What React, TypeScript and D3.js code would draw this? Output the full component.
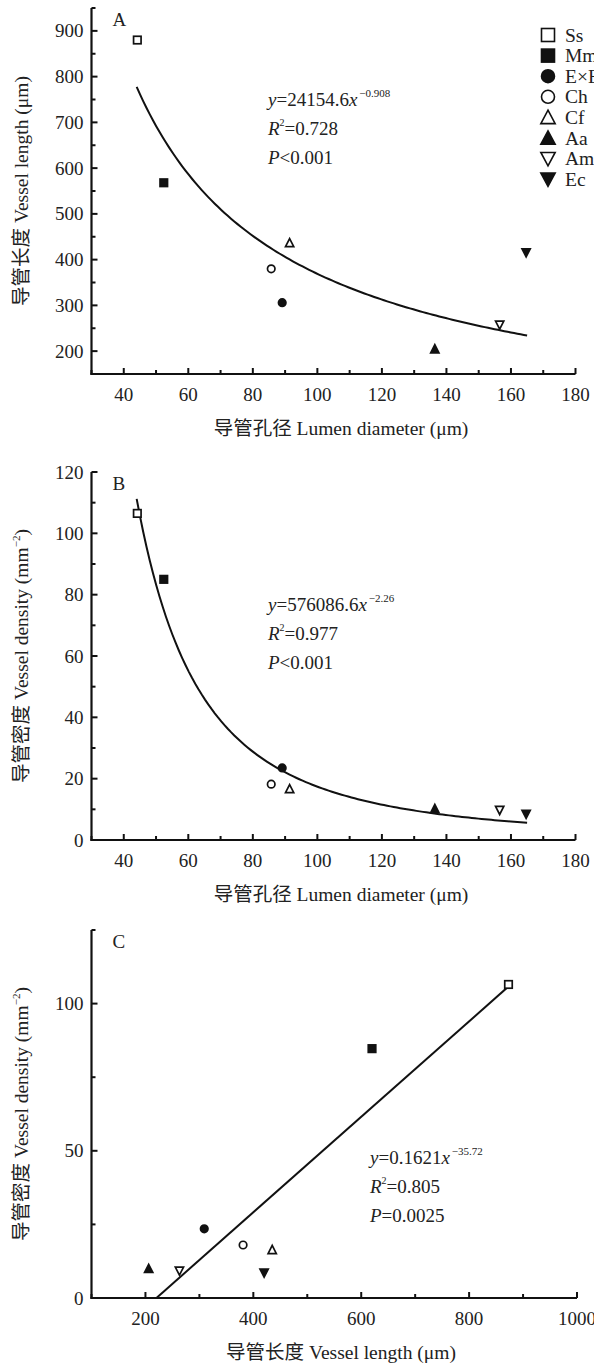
import React from 'react';
import * as d3 from 'd3';

// ---------- data ----------
const species = ['Ss', 'Mm', 'E×B', 'Ch', 'Cf', 'Aa', 'Am', 'Ec'];
const markerShapes = ['square-open', 'square-filled', 'circle-filled', 'circle-open', 'tri-up-open', 'tri-up-filled', 'tri-down-open', 'tri-down-filled'];
const lumenDiameter = [44.2, 52.4, 89.1, 85.7, 91.4, 136.4, 156.5, 164.7];
const vesselLength = [880, 568, 306, 380, 436, 204, 258, 416];
const vesselDensity = [106.5, 85, 23.5, 18.2, 16.6, 10.1, 9.8, 8.5];
const vesselLengthC = [873, 620, 309, 381, 435, 206, 263, 420];
const vesselDensityC = [106.5, 84.7, 23.5, 18, 16.3, 9.9, 9.3, 8.6];

// fitted models (from the chart's equations)
const fitA = { a: 24154.6, b: -0.908, from: 44, to: 165 };
const fitB = { a: 576086.6, b: -2.26, from: 44, to: 165 };
const fitC = { slope: 0.1621, intercept: -35.72, from: 220.4, to: 880 };

// ticks
const xTicksAB = [40, 60, 80, 100, 120, 140, 160, 180];
const xMinorAB = [30, 50, 70, 90, 110, 130, 150, 170];
const yTicksA = [200, 300, 400, 500, 600, 700, 800, 900];
const yMinorA = [150, 250, 350, 450, 550, 650, 750, 850, 950];
const yTicksB = [0, 20, 40, 60, 80, 100, 120];
const yMinorB = [10, 30, 50, 70, 90, 110];
const xTicksC = [200, 400, 600, 800, 1000];
const xMinorC = [100, 300, 500, 700, 900];
const yTicksC = [0, 50, 100];
const yMinorC = [25, 75, 125];

const FONT = "'Liberation Serif', 'Times New Roman', 'Noto Sans CJK SC', serif";

function Marker({ shape, x, y, s }: { shape: string; x: number; y: number; s: number }) {
  const filled = shape.endsWith('filled');
  const fill = filled ? '#111' : '#fff';
  const sw = s > 10 ? 1.6 : 1.7;
  if (shape.startsWith('square')) {
    return <rect x={x - s / 2} y={y - s / 2} width={s} height={s} fill={fill} stroke="#111" strokeWidth={sw} />;
  }
  if (shape.startsWith('circle')) {
    return <circle cx={x} cy={y} r={s / 2} fill={fill} stroke="#111" strokeWidth={sw} />;
  }
  const w = s * 1.1;
  const h = s * 0.95;
  if (shape.startsWith('tri-up')) {
    const p = `${x},${y - h / 2 - 1} ${x + w / 2},${y + h / 2} ${x - w / 2},${y + h / 2}`;
    return <polygon points={p} fill={fill} stroke="#111" strokeWidth={sw} strokeLinejoin="miter" />;
  }
  const p = `${x - w / 2},${y - h / 2} ${x + w / 2},${y - h / 2} ${x},${y + h / 2 + 1}`;
  return <polygon points={p} fill={fill} stroke="#111" strokeWidth={sw} strokeLinejoin="miter" />;
}

type PanelProps = {
  x: d3.ScaleLinear<number, number>;
  y: d3.ScaleLinear<number, number>;
  xTicks: number[];
  xMinor: number[];
  yTicks: number[];
  yMinor: number[];
  letter: string;
  xTitle: string;
  yTitle: React.ReactNode;
  children?: React.ReactNode;
};

function Panel({ x, y, xTicks, xMinor, yTicks, yMinor, letter, xTitle, yTitle, children }: PanelProps) {
  const [x0, x1] = x.range();
  const [yb, yt] = y.range();
  const major = 6;
  const minor = 4;
  return (
    <g>
      {/* axes */}
      <line x1={x0} x2={x0} y1={yt} y2={yb + 1} stroke="#111" strokeWidth={2.2} />
      <line x1={x0 - 1} x2={x1} y1={yb} y2={yb} stroke="#111" strokeWidth={2.2} />
      {xTicks.map((t) => (
        <g key={'xt' + t}>
          <line x1={x(t)} x2={x(t)} y1={yb} y2={yb - major} stroke="#111" strokeWidth={2} />
          <text x={x(t)} y={yb + 27} textAnchor="middle" fontSize={19} fontFamily={FONT} fill="#222">{t}</text>
        </g>
      ))}
      {xMinor.map((t) => (
        <line key={'xm' + t} x1={x(t)} x2={x(t)} y1={yb} y2={yb - minor} stroke="#111" strokeWidth={2} />
      ))}
      {yTicks.map((t) => (
        <g key={'yt' + t}>
          <line x1={x0} x2={x0 + major} y1={y(t)} y2={y(t)} stroke="#111" strokeWidth={2} />
          <text x={x0 - 8} y={y(t) + 6.5} textAnchor="end" fontSize={19} fontFamily={FONT} fill="#222">{t}</text>
        </g>
      ))}
      {yMinor.map((t) => (
        <line key={'ym' + t} x1={x0} x2={x0 + minor} y1={y(t)} y2={y(t)} stroke="#111" strokeWidth={2} />
      ))}
      <text x={x0 + 21} y={yt + 18} fontSize={19} fontFamily={FONT} fill="#222">{letter}</text>
      <text x={341} y={yb + 61} textAnchor="middle" fontSize={19.5} fontFamily={FONT} fill="#222">{xTitle}</text>
      <text transform={`translate(21, ${(yt + yb) / 2}) rotate(-90)`} textAnchor="middle" dy="0.35em" fontSize={19.5} fontFamily={FONT} fill="#222">{yTitle}</text>
      {children}
    </g>
  );
}

function Formula({ x, y, coef, sup, r2, p }: { x: number; y: number; coef: string; sup: string; r2: string; p: string }) {
  return (
    <g fontFamily={FONT} fontSize={19} fill="#222">
      <text x={x} y={y}>
        <tspan fontStyle="italic">y</tspan>={coef}<tspan fontStyle="italic">x</tspan>
        <tspan dx={2} dy={-9} fontSize={11}>{sup}</tspan>
      </text>
      <text x={x} y={y + 29}>
        <tspan fontStyle="italic">R</tspan><tspan dy={-9} fontSize={10}>2</tspan><tspan dy={9}>={r2}</tspan>
      </text>
      <text x={x} y={y + 58}>
        <tspan fontStyle="italic">P</tspan>{p}
      </text>
    </g>
  );
}

export default function App() {
  const xAB_A = d3.scaleLinear().domain([30, 180]).range([91.5, 575.5]);
  const yA = d3.scaleLinear().domain([150, 950]).range([374, 8]);
  const xAB_B = d3.scaleLinear().domain([30, 180]).range([91.5, 575.5]);
  const yB = d3.scaleLinear().domain([0, 120]).range([840, 472]);
  const xC = d3.scaleLinear().domain([100, 1000]).range([91.5, 577]);
  const yC = d3.scaleLinear().domain([0, 125]).range([1298, 930]);

  const samples = d3.range(0, 121).map((i) => i / 120);
  const curveA = d3.line<number>()
    .x((t) => xAB_A(fitA.from + t * (fitA.to - fitA.from)))
    .y((t) => yA(fitA.a * Math.pow(fitA.from + t * (fitA.to - fitA.from), fitA.b)))(samples);
  const curveB = d3.line<number>()
    .x((t) => xAB_B(fitB.from + t * (fitB.to - fitB.from)))
    .y((t) => yB(fitB.a * Math.pow(fitB.from + t * (fitB.to - fitB.from), fitB.b)))(samples);
  const lineC = d3.line<number>()
    .x((v) => xC(v))
    .y((v) => yC(fitC.slope * v + fitC.intercept))([fitC.from, fitC.to]);

  const densityTitle = (
    <>
      导管密度 Vessel density (mm<tspan dy={-8} fontSize={11}>−2</tspan><tspan dy={8}>)</tspan>
    </>
  );

  return (
    <svg width={594} height={1366} style={{ position: 'absolute', left: 0, top: 0, background: '#fff' }}>
      <rect width={594} height={1366} fill="#fff" />
      {/* Panel A */}
      <Panel x={xAB_A} y={yA} xTicks={xTicksAB} xMinor={xMinorAB} yTicks={yTicksA} yMinor={yMinorA}
        letter="A" xTitle="导管孔径 Lumen diameter (μm)" yTitle="导管长度 Vessel length (μm)">
        <path d={curveA || ''} fill="none" stroke="#111" strokeWidth={2} />
        {species.map((s, i) => (
          <Marker key={s} shape={markerShapes[i]} x={xAB_A(lumenDiameter[i])} y={yA(vesselLength[i])} s={7.5} />
        ))}
        <Formula x={268} y={106} coef="24154.6" sup="−0.908" r2="0.728" p="<0.001" />
        {species.map((s, i) => (
          <g key={'lg' + s}>
            <Marker shape={markerShapes[i]} x={548} y={35 + i * 20.6} s={13} />
            <text x={565} y={35 + i * 20.6 + 6.5} fontSize={19.5} fontFamily={FONT} fill="#222">{s}</text>
          </g>
        ))}
      </Panel>
      {/* Panel B */}
      <Panel x={xAB_B} y={yB} xTicks={xTicksAB} xMinor={xMinorAB} yTicks={yTicksB} yMinor={yMinorB}
        letter="B" xTitle="导管孔径 Lumen diameter (μm)" yTitle={densityTitle}>
        <path d={curveB || ''} fill="none" stroke="#111" strokeWidth={2} />
        {species.map((s, i) => (
          <Marker key={s} shape={markerShapes[i]} x={xAB_B(lumenDiameter[i])} y={yB(vesselDensity[i])} s={7.5} />
        ))}
        <Formula x={268} y={611} coef="576086.6" sup="−2.26" r2="0.977" p="<0.001" />
      </Panel>
      {/* Panel C */}
      <Panel x={xC} y={yC} xTicks={xTicksC} xMinor={xMinorC} yTicks={yTicksC} yMinor={yMinorC}
        letter="C" xTitle="导管长度 Vessel length (μm)" yTitle={densityTitle}>
        <path d={lineC || ''} fill="none" stroke="#111" strokeWidth={2} />
        {species.map((s, i) => (
          <Marker key={s} shape={markerShapes[i]} x={xC(vesselLengthC[i])} y={yC(vesselDensityC[i])} s={7.5} />
        ))}
        <Formula x={370} y={1164} coef="0.1621" sup="−35.72" r2="0.805" p="=0.0025" />
      </Panel>
    </svg>
  );
}
